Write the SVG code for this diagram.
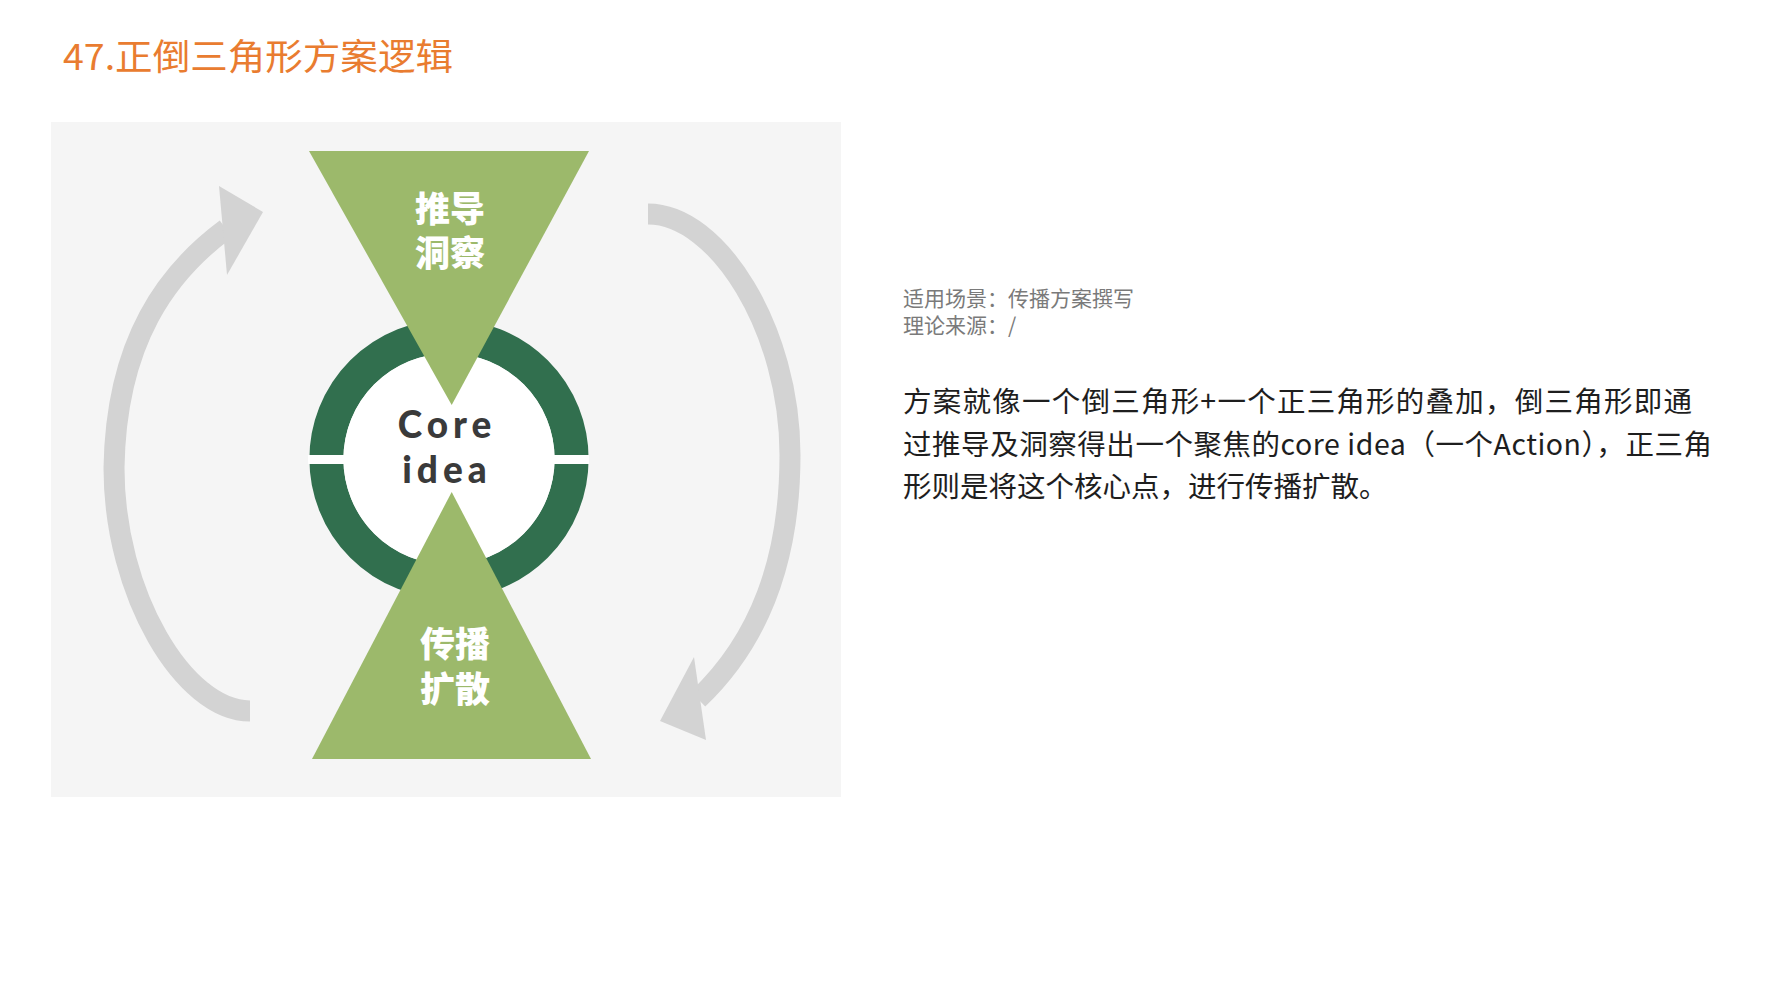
<svg xmlns="http://www.w3.org/2000/svg" width="1778" height="1000" viewBox="0 0 1778 1000">
<style>
.tri{fill:#9cb96b}
.lbl{font-family:"Liberation Sans","Noto Sans CJK SC",sans-serif;font-weight:900;font-size:35px;fill:#ffffff;text-anchor:middle}
.core{font-family:Lato,"Open Sans",sans-serif;font-weight:900;font-size:37px;fill:#3a3a3a;text-anchor:middle;letter-spacing:5px}
.arc{fill:none;stroke:#d3d3d3;stroke-width:21;stroke-linecap:butt}
.head{fill:#d3d3d3}
.meta{font-family:"Noto Sans CJK SC","Noto Sans",sans-serif;font-size:21px;fill:#7a7a7a}
.body{font-family:"Noto Sans CJK SC","Noto Sans",sans-serif;font-size:28.5px;fill:#1e1e1e}
</style>
<rect width="1778" height="1000" fill="#ffffff"/>
<text id="title" x="63" y="70" font-family="Noto Sans CJK SC, Noto Sans, sans-serif" font-size="36" fill="#e97c30" textLength="390" lengthAdjust="spacingAndGlyphs">47.正倒三角形方案逻辑</text>
<rect id="panel" x="51" y="122" width="790" height="675" fill="#f5f5f5"/>
<g id="connectors">
  <path class="arc" d="M250,711 C184,711 114,594 114,468 C116,340 168,272 226,229"/>
  <polygon class="head" points="219,186 263,212 227,275"/>
  <path class="arc" d="M648,214 C718,214 790,330 790,455 C790,560 760,640 698,699"/>
  <polygon class="head" points="694,657 660,721 706,740"/>
</g>
<g id="core-ring">
  <circle cx="449" cy="459" r="122.6" fill="none" stroke="#316f4e" stroke-width="34"/>
  <circle cx="449" cy="459" r="105.6" fill="#ffffff"/>
  <rect x="308" y="455" width="36" height="9" fill="#ffffff"/>
  <rect x="553" y="455" width="36" height="9" fill="#ffffff"/>
</g>
<g id="node-top">
  <polygon class="tri" points="309,151 589,151 451.7,405"/>
  <text class="lbl" x="450" y="222">推导<tspan x="450" dy="44">洞察</tspan></text>
</g>
<g id="node-bottom">
  <polygon class="tri" points="451.7,492 591,759 312,759"/>
  <text class="lbl" x="455" y="657">传播<tspan x="455" dy="45">扩散</tspan></text>
</g>
<g id="node-core">
  <text class="core" x="447" y="438">Core<tspan x="447" dy="45">idea</tspan></text>
</g>
<g id="meta">
  <text class="meta" x="903" y="306">适用场景：传播方案撰写</text>
  <text class="meta" x="903" y="333">理论来源：/</text>
</g>
<g id="description">
  <text class="body" x="903" y="412" textLength="789" lengthAdjust="spacing">方案就像一个倒三角形+一个正三角形的叠加，倒三角形即通</text>
  <text class="body" x="903" y="455" textLength="809" lengthAdjust="spacing">过推导及洞察得出一个聚焦的core idea（一个Action），正三角</text>
  <text class="body" x="903" y="497">形则是将这个核心点，进行传播扩散。</text>
</g>
</svg>
